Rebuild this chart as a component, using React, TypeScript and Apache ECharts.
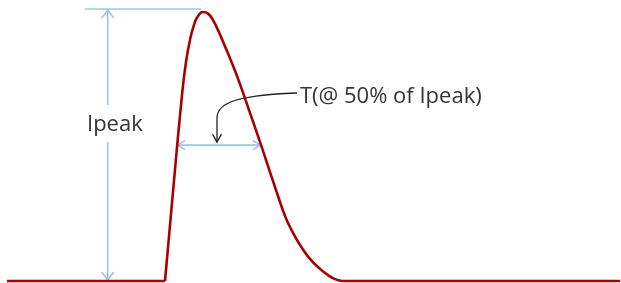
import React, { useEffect, useRef } from "react";
import * as echarts from "echarts";

// Pulse waveform (x in time units, y as fraction of Ipeak)
const pulseX = [165, 172, 182, 186, 190, 194, 198, 203, 208, 213, 218, 224, 232, 240, 250, 261, 270, 278, 285, 292, 300, 310, 320, 328, 335, 342];
const pulseY = [0, 0.29, 0.691, 0.814, 0.896, 0.952, 0.985, 1, 0.994, 0.97, 0.933, 0.881, 0.81, 0.732, 0.625, 0.506, 0.405, 0.316, 0.242, 0.186, 0.134, 0.082, 0.045, 0.022, 0.007, 0];
const leftBaseX = [7, 165];
const rightBaseX = [342, 620];

// Annotation reference values
const peakRefLevel = 1.011;
const peakRefStartX = 85;
const peakRefEndX = 201;
const ipeakArrowX = 107.7;
const halfLevel = 0.505;
const halfLeftX = 177;
const halfRightX = 261;
const calloutTipX = 217;
const ipeakLabel = "Ipeak";
const widthLabel = "T(@ 50% of Ipeak)";

const RED = "#a80000";
const BLUE = "#9fc3ea";
const FONT = '22px "Open Sans"';

export default function App() {
  const ref = useRef<HTMLDivElement>(null);
  useEffect(() => {
    const chart = echarts.init(ref.current!, null, { renderer: "svg" });
    const lineStyle = { color: RED, width: 2.6 };
    chart.setOption({
      animation: false,
      grid: { left: 0, right: 0, top: 12, bottom: 2 },
      xAxis: { type: "value", min: 0, max: 621, show: false },
      yAxis: { type: "value", min: 0, max: 1, show: false },
      series: [
        {
          type: "line",
          data: leftBaseX.map((x) => [x, 0]),
          showSymbol: false,
          clip: false,
          lineStyle,
        },
        {
          type: "line",
          data: pulseX.map((x, i) => [x, pulseY[i]]),
          showSymbol: false,
          smooth: 0.5,
          clip: false,
          lineStyle,
        },
        {
          type: "line",
          data: rightBaseX.map((x) => [x, 0]),
          showSymbol: false,
          clip: false,
          lineStyle,
        },
      ],
    });

    const p = (x: number, y: number) => chart.convertToPixel({ gridIndex: 0 }, [x, y]) as number[];
    const blue = { stroke: BLUE, lineWidth: 1.6, fill: "none" };
    const black = { stroke: "#222", lineWidth: 1.3, fill: "none" };

    const refL = p(peakRefStartX, peakRefLevel);
    const refR = p(peakRefEndX, peakRefLevel);
    const vTop = p(ipeakArrowX, peakRefLevel);
    const vBot = p(ipeakArrowX, 0);
    const labelY = 122;
    const hL = p(halfLeftX, halfLevel);
    const hR = p(halfRightX, halfLevel);
    const tip = p(calloutTipX, halfLevel);
    const tipY = tip[1] - 3;
    const textX = 300;
    const textY = 94;

    chart.setOption({
      graphic: [
        { type: "line", shape: { x1: refL[0], y1: refL[1], x2: refR[0], y2: refR[1] }, style: blue },
        { type: "line", shape: { x1: vTop[0], y1: vTop[1], x2: vTop[0], y2: 105 }, style: blue },
        { type: "line", shape: { x1: vBot[0], y1: 142, x2: vBot[0], y2: vBot[1] }, style: blue },
        { type: "polyline", shape: { points: [[vTop[0] - 6, vTop[1] + 9], [vTop[0], vTop[1] + 1], [vTop[0] + 6, vTop[1] + 9]] }, style: blue },
        { type: "polyline", shape: { points: [[vBot[0] - 6, vBot[1] - 9], [vBot[0], vBot[1] - 1], [vBot[0] + 6, vBot[1] - 9]] }, style: blue },
        { type: "line", shape: { x1: hL[0], y1: hL[1], x2: hR[0], y2: hR[1] }, style: blue },
        { type: "polyline", shape: { points: [[hL[0] + 8, hL[1] - 4.5], [hL[0] + 0.5, hL[1]], [hL[0] + 8, hL[1] + 4.5]] }, style: blue },
        { type: "polyline", shape: { points: [[hR[0] - 8, hR[1] - 4.5], [hR[0] - 0.5, hR[1]], [hR[0] - 8, hR[1] + 4.5]] }, style: blue },
        {
          type: "text",
          x: 87,
          y: labelY,
          style: { text: ipeakLabel, font: FONT, fill: "#333", textVerticalAlign: "middle", verticalAlign: "middle" },
        },
        {
          type: "text",
          x: textX,
          y: textY,
          style: { text: widthLabel, font: FONT, fill: "#333", textVerticalAlign: "middle", verticalAlign: "middle" },
        },
        {
          type: "bezierCurve",
          shape: { x1: textX - 3, y1: textY - 1, cpx1: 240, cpy1: 95, cpx2: tip[0], cpy2: 102, x2: tip[0], y2: 118 },
          style: black,
        },
        { type: "line", shape: { x1: tip[0], y1: 118, x2: tip[0], y2: tipY }, style: black },
        { type: "polyline", shape: { points: [[tip[0] - 4.5, tipY - 8], [tip[0], tipY], [tip[0] + 4.5, tipY - 8]] }, style: black },
      ],
    });
    return () => chart.dispose();
  }, []);
  return <div ref={ref} style={{ position: "fixed", left: 0, top: 0, width: 621, height: 283 }} />;
}
